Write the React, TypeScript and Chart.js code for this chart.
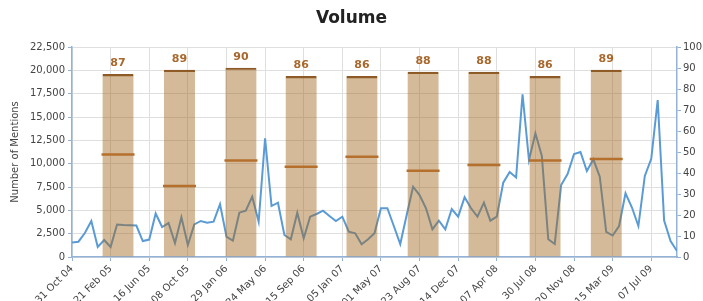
import React, { useEffect, useRef } from 'react';
import { Chart, registerables } from 'chart.js';

Chart.register(...registerables);

const dateLabels = [
  '31 Oct 04', '21 Feb 05', '16 Jun 05', '08 Oct 05', '29 Jan 06', '24 May 06',
  '15 Sep 06', '05 Jan 07', '01 May 07', '23 Aug 07', '14 Dec 07', '07 Apr 08',
  '30 Jul 08', '20 Nov 08', '15 Mar 09', '07 Jul 09',
];

// number of mentions per period (6 periods between labelled dates)
const volume = [
  1550, 1640, 2570, 3860, 1070, 1820, 1070, 3480, 3430, 3400,
  3370, 1710, 1870, 4660, 3210, 3640, 1500, 4250, 1290, 3500,
  3860, 3680, 3780, 5650, 2170, 1750, 4750, 4960, 6460, 3780,
  12720, 5460, 5820, 2360, 1900, 4750, 2000, 4320, 4610, 4960,
  4390, 3860, 4320, 2710, 2540, 1360, 1900, 2540, 5220, 5220,
  3320, 1390, 4500, 7530, 6640, 5220, 2970, 3890, 2970, 5140,
  4320, 6400, 5220, 4320, 5820, 3890, 4320, 7960, 9110, 8520,
  17440, 10390, 13250, 10820, 1900, 1390, 7710, 8890, 11040, 11250,
  9210, 10470, 8600, 2680, 2300, 3320, 6820, 5300, 3320, 8680,
  10520, 16820, 3910, 1710, 640,
];

// half-year score columns (position in periods, value on right axis)
const barPeriods = [7.15, 16.7, 26.25, 35.6, 45.05, 54.55, 64.0, 73.5, 83.0];
const barScores = [87, 89, 90, 86, 86, 88, 88, 86, 89];
const barMarkers = [48.8, 33.8, 45.9, 43.0, 47.7, 41.1, 43.8, 45.9, 46.7];

const periodsPerLabel = 6;
const leftMax = 22500;
const leftStep = 2500;
const rightMax = 100;
const rightStep = 10;

const FONT = 'DejaVu Sans';
const AXIS_BLUE = '#93b2d8';
const GRID = '#dfdfdf';
const TEXT = '#444444';

const fmt = (v: number) => String(v).replace(/\B(?=(\d{3})+(?!\d))/g, ',');

export default function App() {
  const ref = useRef<HTMLCanvasElement>(null);

  useEffect(() => {
    const canvas = ref.current!;
    const valueLabels = {
      id: 'valueLabels',
      afterDatasetsDraw(chart: any) {
        const meta = chart.getDatasetMeta(1);
        const ctx = chart.ctx;
        ctx.save();
        ctx.font = `bold 11px "${FONT}"`;
        ctx.fillStyle = '#a8682c';
        ctx.textAlign = 'center';
        ctx.textBaseline = 'middle';
        meta.data.forEach((el: any, i: number) => {
          ctx.fillText(String(barScores[i]), el.x, el.y - 11);
        });
        ctx.restore();
      },
    };

    const chart = new Chart(canvas, {
      type: 'bar',
      data: {
        datasets: [
          {
            type: 'line',
            label: 'Volume',
            data: volume.map((v, i) => ({ x: i, y: v })),
            yAxisID: 'y',
            borderColor: '#5b9bd5',
            borderWidth: 2,
            pointRadius: 0,
            tension: 0,
            order: 2,
          } as any,
          {
            type: 'bar',
            label: 'Score',
            data: barPeriods.map((x, i) => ({ x, y: barScores[i] })),
            yAxisID: 'y2',
            backgroundColor: 'rgba(159,102,26,0.45)',
            borderColor: '#8c5a28',
            borderWidth: { top: 1.5, left: 0, right: 0, bottom: 0 },
            barThickness: 31,
            order: 1,
          } as any,
          {
            type: 'line',
            label: 'Marker',
            data: barPeriods.map((x, i) => ({ x, y: barMarkers[i] })),
            yAxisID: 'y2',
            showLine: false,
            pointStyle: 'line',
            pointRadius: 16.5,
            pointHoverRadius: 16.5,
            pointBorderWidth: 2.5,
            borderColor: '#b4702c',
            backgroundColor: '#b4702c',
            order: 0,
          } as any,
        ],
      },
      options: {
        responsive: false,
        animation: false,
        layout: { padding: 0 },
        plugins: {
          legend: { display: false },
          tooltip: { enabled: false },
          title: {
            display: true,
            text: 'Volume',
            color: '#222222',
            font: { family: FONT, size: 17, weight: 'bold' },
            padding: { top: 8, bottom: 18.6 },
          },
        },
        scales: {
          x: {
            type: 'linear',
            min: 0,
            max: volume.length - 1,
            offset: false,
            grid: { offset: false, color: GRID, tickLength: 4, tickColor: AXIS_BLUE },
            border: { color: AXIS_BLUE, width: 1.5 },
            ticks: {
              autoSkip: false,
              minRotation: 45,
              maxRotation: 45,
              padding: 2,
              color: TEXT,
              font: { family: FONT, size: 10 },
              callback: (v: any) => dateLabels[Math.round(Number(v) / periodsPerLabel)] ?? '',
            },
            afterBuildTicks: (s: any) => {
              s.ticks = dateLabels.map((_, k) => ({ value: k * periodsPerLabel }));
            },
            afterFit: (s: any) => {
              s.height = 44;
            },
          },
          y: {
            position: 'left',
            min: 0,
            max: leftMax,
            grid: { color: GRID, tickLength: 4, tickColor: AXIS_BLUE },
            border: { color: AXIS_BLUE, width: 1.5 },
            ticks: {
              stepSize: leftStep,
              padding: 3,
              color: TEXT,
              font: { family: FONT, size: 10 },
              callback: (v: any) => fmt(Number(v)),
            },
            title: {
              display: true,
              text: 'Number of Mentions',
              color: TEXT,
              font: { family: FONT, size: 10 },
              padding: { top: 9, bottom: 0 },
            },
            afterFit: (s: any) => {
              s.width = 72;
            },
          },
          y2: {
            position: 'right',
            min: 0,
            max: rightMax,
            grid: { drawOnChartArea: false, tickLength: 4, tickColor: AXIS_BLUE },
            border: { color: AXIS_BLUE, width: 1.5 },
            ticks: {
              stepSize: rightStep,
              padding: 2,
              color: TEXT,
              font: { family: FONT, size: 10 },
            },
            afterFit: (s: any) => {
              s.width = 26;
            },
          },
        },
      } as any,
      plugins: [valueLabels],
    });
    return () => chart.destroy();
  }, []);

  return (
    <div style={{ position: 'fixed', left: 0, top: 0, width: 703, height: 301, background: '#fff' }}>
      <canvas ref={ref} width={703} height={301} style={{ display: 'block', width: 703, height: 301 }} />
    </div>
  );
}
